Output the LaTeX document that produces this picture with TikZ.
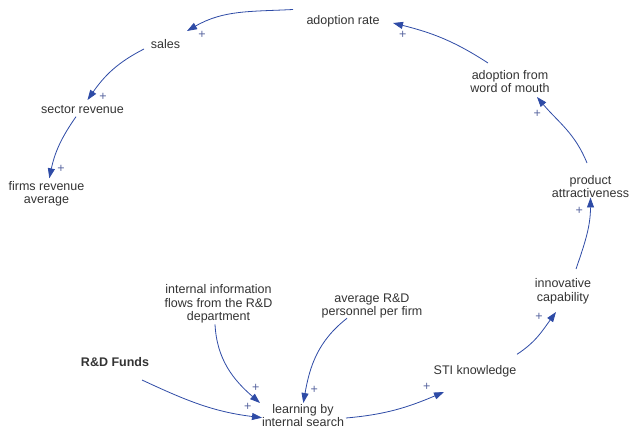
\documentclass[tikz,border=0pt]{standalone}
\usepackage{fontspec}
\setmainfont{Liberation Sans}
\usepackage{xcolor}
\usetikzlibrary{arrows.meta}

\definecolor{linkblue}{HTML}{2E4BA6}
\definecolor{signblue}{HTML}{56639E}
\definecolor{vartext}{HTML}{333333}

\begin{document}
\begin{tikzpicture}[x=1pt, y=1pt,
    var/.style={align=center, inner sep=2pt, text=vartext,
                font=\fontsize{12.5}{13.5}\selectfont},
    link/.style={-{Triangle[length=10pt, width=7pt]}, line width=0.8pt, color=linkblue},
    sign/.style={inner sep=0pt, text=signblue, font=\fontsize{12.5}{12.5}\selectfont}
]
\useasboundingbox (0,0) rectangle (634,-430);

%% Variables of the main loop
\node[var] (adrate)   at (343,-21)    {adoption rate};
\node[var] (sales)    at (165.5,-43.7) {sales};
\node[var] (sector)   at (82.5,-109.7) {sector revenue};
\node[var] (firmsrev) at (46.5,-194)  {firms revenue\\average};
\node[var] (wom)      at (510,-81.5)  {adoption from\\word of mouth};
\node[var] (attract)  at (590.5,-186.5) {product\\attractiveness};
\node[var] (innov)    at (563,-291.5) {innovative\\capability};
\node[var] (sti)      at (475,-371.7) {STI knowledge};
\node[var] (learning) at (303,-415.5) {learning by\\internal search};

%% Inputs to learning
\node[var, font=\fontsize{12.5}{13.5}\selectfont\bfseries] (funds) at (115,-361.7) {R\&D Funds};
\node[var] (infoflow)  at (218.5,-304) {internal information\\flows from the R\&D\\department};
\node[var] (personnel) at (372,-306)   {average R\&D\\personnel per firm};

%% Causal links
\draw[link] ([shift={(-50,11.5)}]adrate.center) to[out=183, in=30] ([shift={(21.5,12.7)}]sales.center);
\draw[link] ([shift={(-21.5,-5.3)}]sales.center) to[out=207, in=55] ([shift={(5,9.7)}]sector.center);
\draw[link] ([shift={(-6.5,-7)}]sector.center) to[out=235, in=78] ([shift={(2.8,15.7)}]firmsrev.center);
\draw[link] ([shift={(-22,18.5)}]wom.center) to[out=147, in=-14] ([shift={(50,-2)}]adrate.center);
\draw[link] ([shift={(-3.5,23.5)}]attract.center) to[out=112, in=-50] ([shift={(27,-15.5)}]wom.center);
\draw[link] ([shift={(13,22.5)}]innov.center) to[out=71, in=-90] ([shift={(0,-11)}]attract.center);
\draw[link] ([shift={(42,17.4)}]sti.center) to[out=33, in=234] ([shift={(-7,-20.5)}]innov.center);
\draw[link] ([shift={(43,-2.5)}]learning.center) to[out=5, in=203] ([shift={(-31,-20.3)}]sti.center);
\draw[link] ([shift={(27,-18.3)}]funds.center) to[out=-25, in=173] ([shift={(-41,-2.2)}]learning.center);
\draw[link] ([shift={(-3.5,-20.3)}]infoflow.center) to[out=-87, in=139] ([shift={(-43,12.5)}]learning.center);
\draw[link] ([shift={(-25,-12.3)}]personnel.center) to[out=218, in=80] ([shift={(0.3,12.5)}]learning.center);

%% Polarities
\node[sign] (s1)  at (202,-35)     {+};
\node[sign] (s2)  at (103,-96.7)   {+};
\node[sign] (s3)  at (61,-169.3)   {+};
\node[sign] (s4)  at (402.7,-35)   {+};
\node[sign] (s5)  at (537.3,-114.3) {+};
\node[sign] (s6)  at (579.3,-210.7) {+};
\node[sign] (s7)  at (539,-317.3)  {+};
\node[sign] (s8)  at (426.7,-386.7) {+};
\node[sign] (s9)  at (247.7,-406.7) {+};
\node[sign] (s10) at (255.7,-388.3) {+};
\node[sign] (s11) at (314.3,-390)  {+};

\end{tikzpicture}
\end{document}
